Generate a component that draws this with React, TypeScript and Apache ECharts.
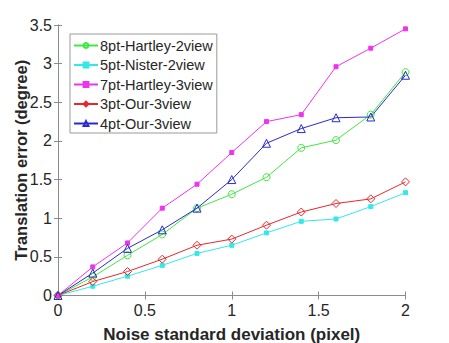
import React, { useEffect, useRef } from "react";
import * as echarts from "echarts";

const noise = [0, 0.2, 0.4, 0.6, 0.8, 1.0, 1.2, 1.4, 1.6, 1.8, 2.0];
const hartley8 = [0, 0.24, 0.52, 0.79, 1.13, 1.31, 1.53, 1.91, 2.01, 2.34, 2.89];
const nister5 = [0, 0.12, 0.25, 0.39, 0.545, 0.65, 0.81, 0.96, 0.99, 1.15, 1.33];
const hartley7 = [0, 0.37, 0.68, 1.13, 1.44, 1.85, 2.25, 2.34, 2.96, 3.2, 3.45];
const our3 = [0, 0.18, 0.31, 0.47, 0.65, 0.73, 0.91, 1.08, 1.19, 1.25, 1.47];
const our4 = [0, 0.29, 0.61, 0.85, 1.13, 1.5, 1.97, 2.16, 2.3, 2.31, 2.85];

const seriesNames = [
  "8pt-Hartley-2view",
  "5pt-Nister-2view",
  "7pt-Hartley-3view",
  "3pt-Our-3view",
  "4pt-Our-3view",
];

const FONT = "'Liberation Sans', Arial, sans-serif";

export default function App() {
  const ref = useRef<HTMLDivElement>(null);
  useEffect(() => {
    document.body.style.margin = "0";
    const chart = echarts.init(ref.current!, null, { renderer: "svg" });
    const pairs = (vals: number[]) => noise.map((x, i) => [x, vals[i]]);
    const mk = (
      name: string,
      vals: number[],
      color: string,
      symbol: string,
      size: number,
      filled: boolean
    ) => ({
      name,
      type: "line",
      data: pairs(vals),
      symbol,
      symbolSize: size,
      showAllSymbol: true,
      lineStyle: { color, width: 1 },
      itemStyle: {
        color: filled ? color : "rgba(255,255,255,0)",
        borderColor: color,
        borderWidth: 1,
      },
      emphasis: { disabled: true },
      z: 3,
    });
    const axisLineGray = "#8c8c8c";
    chart.setOption({
      animation: false,
      backgroundColor: "#ffffff",
      textStyle: { fontFamily: FONT },
      grid: {
        left: 58,
        right: 43.5,
        top: 25,
        bottom: 47.5,
        containLabel: false,
        outerBoundsMode: "none",
      },
      legend: {
        orient: "vertical",
        left: 70,
        top: 34,
        padding: [4, 4, 2, 3],
        itemGap: 4.5,
        itemWidth: 24,
        itemHeight: 6,
        borderColor: "#9a9a9a",
        borderWidth: 1,
        backgroundColor: "#ffffff",
        textStyle: {
          fontSize: 14.5,
          color: "#262626",
          fontFamily: FONT,
          padding: [0, 0, 0, -3],
        },
        data: seriesNames,
      },
      xAxis: [
        {
          type: "value",
          min: 0,
          max: 2,
          interval: 0.5,
          name: "Noise standard deviation (pixel)",
          nameLocation: "middle",
          nameGap: 30.5,
          nameMoveOverlap: false,
          nameTextStyle: { fontSize: 17, fontWeight: "bold", color: "#262626", fontFamily: FONT },
          axisLine: { show: true, lineStyle: { color: axisLineGray, width: 1 } },
          axisTick: { show: true, inside: true, length: 4, lineStyle: { color: axisLineGray } },
          axisLabel: { fontSize: 16, color: "#262626", margin: 7, fontFamily: FONT },
          splitLine: { show: false },
        },
        {
          type: "value",
          position: "top",
          min: 0,
          max: 2,
          interval: 0.5,
          axisLine: { show: true, lineStyle: { color: axisLineGray, width: 1 } },
          axisTick: { show: true, inside: true, length: 4, lineStyle: { color: axisLineGray } },
          axisLabel: { show: false },
          splitLine: { show: false },
        },
      ],
      yAxis: [
        {
          type: "value",
          min: 0,
          max: 3.5,
          interval: 0.5,
          name: "Translation error (degree)",
          nameLocation: "middle",
          nameGap: 28.5,
          nameMoveOverlap: false,
          nameTextStyle: { fontSize: 16.5, fontWeight: "bold", color: "#262626", fontFamily: FONT },
          axisLine: { show: true, lineStyle: { color: axisLineGray, width: 1 } },
          axisTick: { show: true, inside: true, length: 4, lineStyle: { color: axisLineGray } },
          axisLabel: { fontSize: 16, color: "#262626", margin: 6, fontFamily: FONT },
          splitLine: { show: false },
        },
        {
          type: "value",
          position: "right",
          min: 0,
          max: 3.5,
          interval: 0.5,
          axisLine: { show: true, lineStyle: { color: axisLineGray, width: 1 } },
          axisTick: { show: true, inside: true, length: 4, lineStyle: { color: axisLineGray } },
          axisLabel: { show: false },
          splitLine: { show: false },
        },
      ],
      series: [
        mk(seriesNames[0], hartley8, "#3ee83e", "circle", 7, false),
        mk(seriesNames[1], nister5, "#33e8e8", "rect", 4, true),
        mk(seriesNames[2], hartley7, "#ee33ee", "rect", 4, true),
        mk(seriesNames[3], our3, "#e82828", "diamond", 8, false),
        mk(seriesNames[4], our4, "#2a2ad0", "triangle", 8, false),
      ],
    });
    return () => chart.dispose();
  }, []);
  return (
    <div
      ref={ref}
      style={{ position: "fixed", left: 0, top: 0, width: 449, height: 343 }}
    />
  );
}
